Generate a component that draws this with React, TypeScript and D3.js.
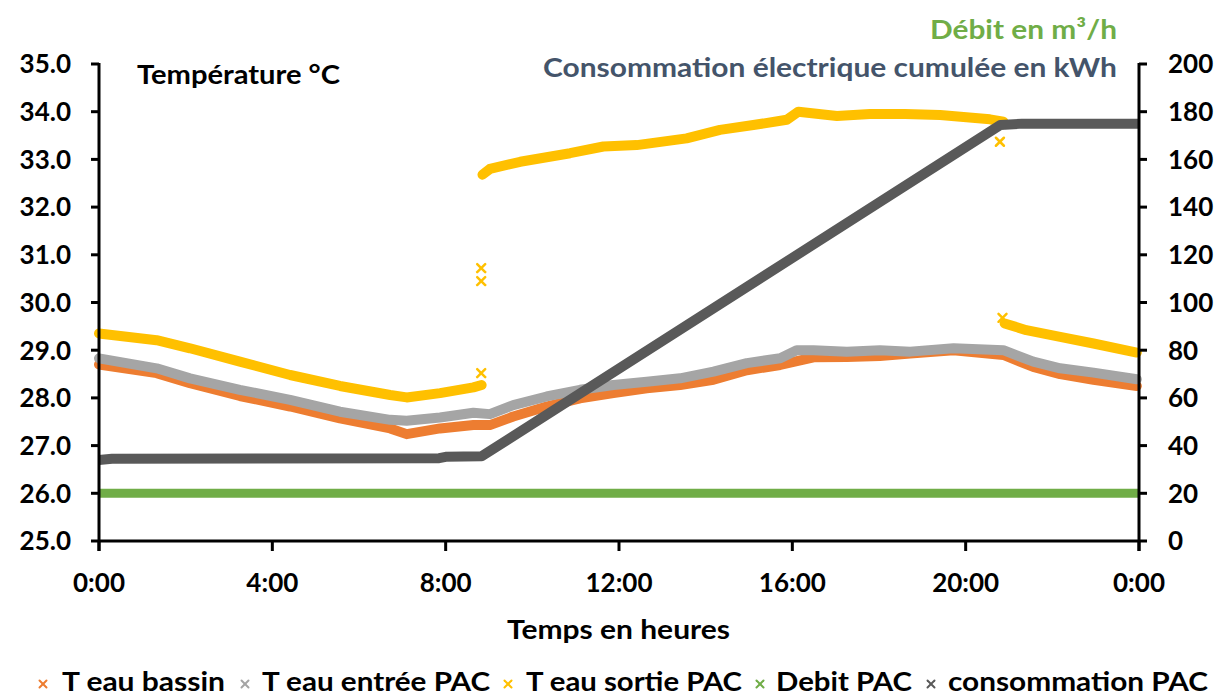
import React from "react";
import * as d3 from "d3";

// ---- data (hours, value) ----
const bassin: [number, number][] = [
  [0, 28.7], [1.33, 28.52], [2.1, 28.31], [3.25, 28.04], [4.41, 27.82], [5.56, 27.57],
  [6.72, 27.36], [7.1, 27.24], [7.87, 27.36], [8.64, 27.43], [9.02, 27.43], [9.56, 27.61],
  [10.33, 27.82], [11.1, 27.99], [11.87, 28.1], [12.64, 28.2], [13.41, 28.27], [14.18, 28.38],
  [14.95, 28.58], [15.72, 28.69], [16.49, 28.85], [17.26, 28.86], [18.02, 28.88], [18.72, 28.93],
  [19.72, 29.0], [20.87, 28.9], [21.56, 28.65], [22.18, 28.5], [22.95, 28.38], [23.95, 28.25],
];
const entree: [number, number][] = [
  [0, 28.83], [1.33, 28.62], [2.1, 28.41], [3.25, 28.17], [4.41, 27.96], [5.56, 27.71],
  [6.72, 27.54], [7.1, 27.52], [7.87, 27.59], [8.64, 27.69], [9.02, 27.66], [9.56, 27.85],
  [10.33, 28.03], [11.1, 28.17], [11.87, 28.27], [12.64, 28.34], [13.41, 28.41], [14.18, 28.55],
  [14.95, 28.73], [15.72, 28.83], [16.1, 29.0], [16.49, 29.0], [17.26, 28.97], [18.02, 29.0],
  [18.72, 28.97], [19.72, 29.04], [20.87, 29.0], [21.56, 28.76], [22.18, 28.62], [22.95, 28.53],
  [23.95, 28.39],
];
const sortieMatin: [number, number][] = [
  [0, 29.35], [1.33, 29.21], [2.1, 29.04], [3.25, 28.76], [4.41, 28.48], [5.56, 28.25],
  [6.72, 28.06], [7.1, 28.01], [7.87, 28.1], [8.64, 28.22], [8.83, 28.27],
];
const sortieJour: [number, number][] = [
  [8.85, 32.68], [9.02, 32.8], [9.72, 32.95], [10.87, 33.13], [11.64, 33.27], [12.41, 33.3],
  [13.56, 33.44], [14.33, 33.62], [15.1, 33.72], [15.87, 33.83], [16.14, 34.0], [17.03, 33.91],
  [17.79, 33.95], [18.6, 33.95], [19.41, 33.93], [20.56, 33.84], [20.87, 33.79],
];
const sortieSoir: [number, number][] = [
  [20.9, 29.56], [21.4, 29.42], [22.18, 29.28], [22.95, 29.14], [23.95, 28.95],
];
const sortieIsoles: [number, number][] = [
  [8.82, 28.52], [8.82, 30.45], [8.82, 30.72], [20.79, 33.37], [20.85, 29.68],
];
const debit: [number, number][] = [[0, 20], [24, 20]];
const consommation: [number, number][] = [
  [0, 34.0], [0.3, 34.5], [7.85, 34.7], [8.0, 35.3], [8.83, 35.5], [20.8, 174.4],
  [21.3, 175.0], [24, 175.0],
];

const leftTicks = [25, 26, 27, 28, 29, 30, 31, 32, 33, 34, 35];
const rightTicks = [0, 20, 40, 60, 80, 100, 120, 140, 160, 180, 200];
const xTicks = [0, 4, 8, 12, 16, 20, 24];

const legendItems = [
  { label: "T eau bassin", color: "#ED7D31", mx: 43, tx: 62, tw: 163 },
  { label: "T eau entrée PAC", color: "#A5A5A5", mx: 245, tx: 262, tw: 228 },
  { label: "T eau sortie PAC", color: "#FFC000", mx: 508, tx: 526, tw: 216 },
  { label: "Debit PAC", color: "#70AD47", mx: 760, tx: 776, tw: 136 },
  { label: "consommation PAC", color: "#595959", mx: 931, tx: 948, tw: 260 },
];

const FONT = "Lato, 'Open Sans', sans-serif";

export default function App() {
  const W = 1228, H = 699;
  const x0 = 99, x1 = 1139, yTop = 64, yBot = 541;
  const x = d3.scaleLinear().domain([0, 24]).range([x0, x1]);
  const yL = d3.scaleLinear().domain([25, 35]).range([yBot, yTop]);
  const yR = d3.scaleLinear().domain([0, 200]).range([yBot, yTop]);

  const lineL = d3.line<[number, number]>().x((d) => x(d[0])).y((d) => yL(d[1]));
  const lineR = d3.line<[number, number]>().x((d) => x(d[0])).y((d) => yR(d[1]));

  const series = [
    { d: lineL(bassin), c: "#ED7D31" },
    { d: lineL(entree), c: "#A5A5A5" },
    { d: lineL(sortieMatin), c: "#FFC000" },
    { d: lineL(sortieJour), c: "#FFC000" },
    { d: lineL(sortieSoir), c: "#FFC000" },
  ];

  const cross = (cx: number, cy: number, s: number, color: string, sw: number, key: string) => (
    <g key={key} stroke={color} strokeWidth={sw} strokeLinecap="round">
      <line x1={cx - s} y1={cy - s} x2={cx + s} y2={cy + s} />
      <line x1={cx - s} y1={cy + s} x2={cx + s} y2={cy - s} />
    </g>
  );

  return (
    <svg width={W} height={H} style={{ position: "absolute", left: 0, top: 0 }} fontFamily={FONT}>
      <rect width={W} height={H} fill="#fff" />
      {/* series */}
      {series.map((s, i) => (
        <path key={i} d={s.d || ""} fill="none" stroke={s.c} strokeWidth={10} strokeLinejoin="round" strokeLinecap="round" />
      ))}
      {sortieIsoles.map((p, i) => cross(x(p[0]), yL(p[1]), 4, "#FFC000", 2.5, "o" + i))}
      <path d={lineR(debit) || ""} fill="none" stroke="#70AD47" strokeWidth={9} />
      <path d={lineR(consommation) || ""} fill="none" stroke="#595959" strokeWidth={10} strokeLinejoin="round" />

      {/* axes */}
      <g stroke="#000" strokeWidth={3} fill="none">
        <line x1={x0} y1={yTop - 1} x2={x0} y2={yBot + 10} />
        <line x1={x1} y1={yTop - 1} x2={x1} y2={yBot + 10} />
        <line x1={x0} y1={yBot} x2={x1} y2={yBot} />
        {leftTicks.map((t) => (
          <line key={"l" + t} x1={x0 - 8} x2={x0} y1={yL(t)} y2={yL(t)} />
        ))}
        {rightTicks.map((t) => (
          <line key={"r" + t} x1={x1} x2={x1 + 8} y1={yR(t)} y2={yR(t)} />
        ))}
        {xTicks.map((t) => (
          <line key={"x" + t} x1={x(t)} x2={x(t)} y1={yBot} y2={yBot + 10} />
        ))}
      </g>
      <g fontSize={26} fontWeight="bold" fill="#000">
        {leftTicks.map((t) => (
          <text key={"lt" + t} x={71} y={yL(t)} dy="0.36em" textAnchor="end">{t.toFixed(1)}</text>
        ))}
        {rightTicks.map((t) => (
          <text key={"rt" + t} x={1168} y={yR(t)} dy="0.36em" textAnchor="start">{t}</text>
        ))}
        {xTicks.map((t) => (
          <text key={"xt" + t} x={x(t)} y={592} textAnchor="middle">{`${t % 24}:00`}</text>
        ))}
        <text x={507} y={639} textLength={223} lengthAdjust="spacingAndGlyphs">Temps en heures</text>
        <text x={137} y={84} textLength={203} lengthAdjust="spacingAndGlyphs">Température °C</text>
        <text x={930} y={39} fill="#70AD47" textLength={187} lengthAdjust="spacingAndGlyphs">Débit en m³/h</text>
        <text x={543} y={77} fill="#44546A" textLength={574} lengthAdjust="spacingAndGlyphs">Consommation  électrique cumulée en kWh</text>
      </g>

      {/* legend */}
      <g fontSize={26} fontWeight="bold" fill="#000">
        {legendItems.map((it) => (
          <g key={it.label}>
            {cross(it.mx, 684, 3.5, it.color, 2, "m" + it.label)}
            <text x={it.tx} y={691} textLength={it.tw} lengthAdjust="spacingAndGlyphs">{it.label}</text>
          </g>
        ))}
      </g>
    </svg>
  );
}
